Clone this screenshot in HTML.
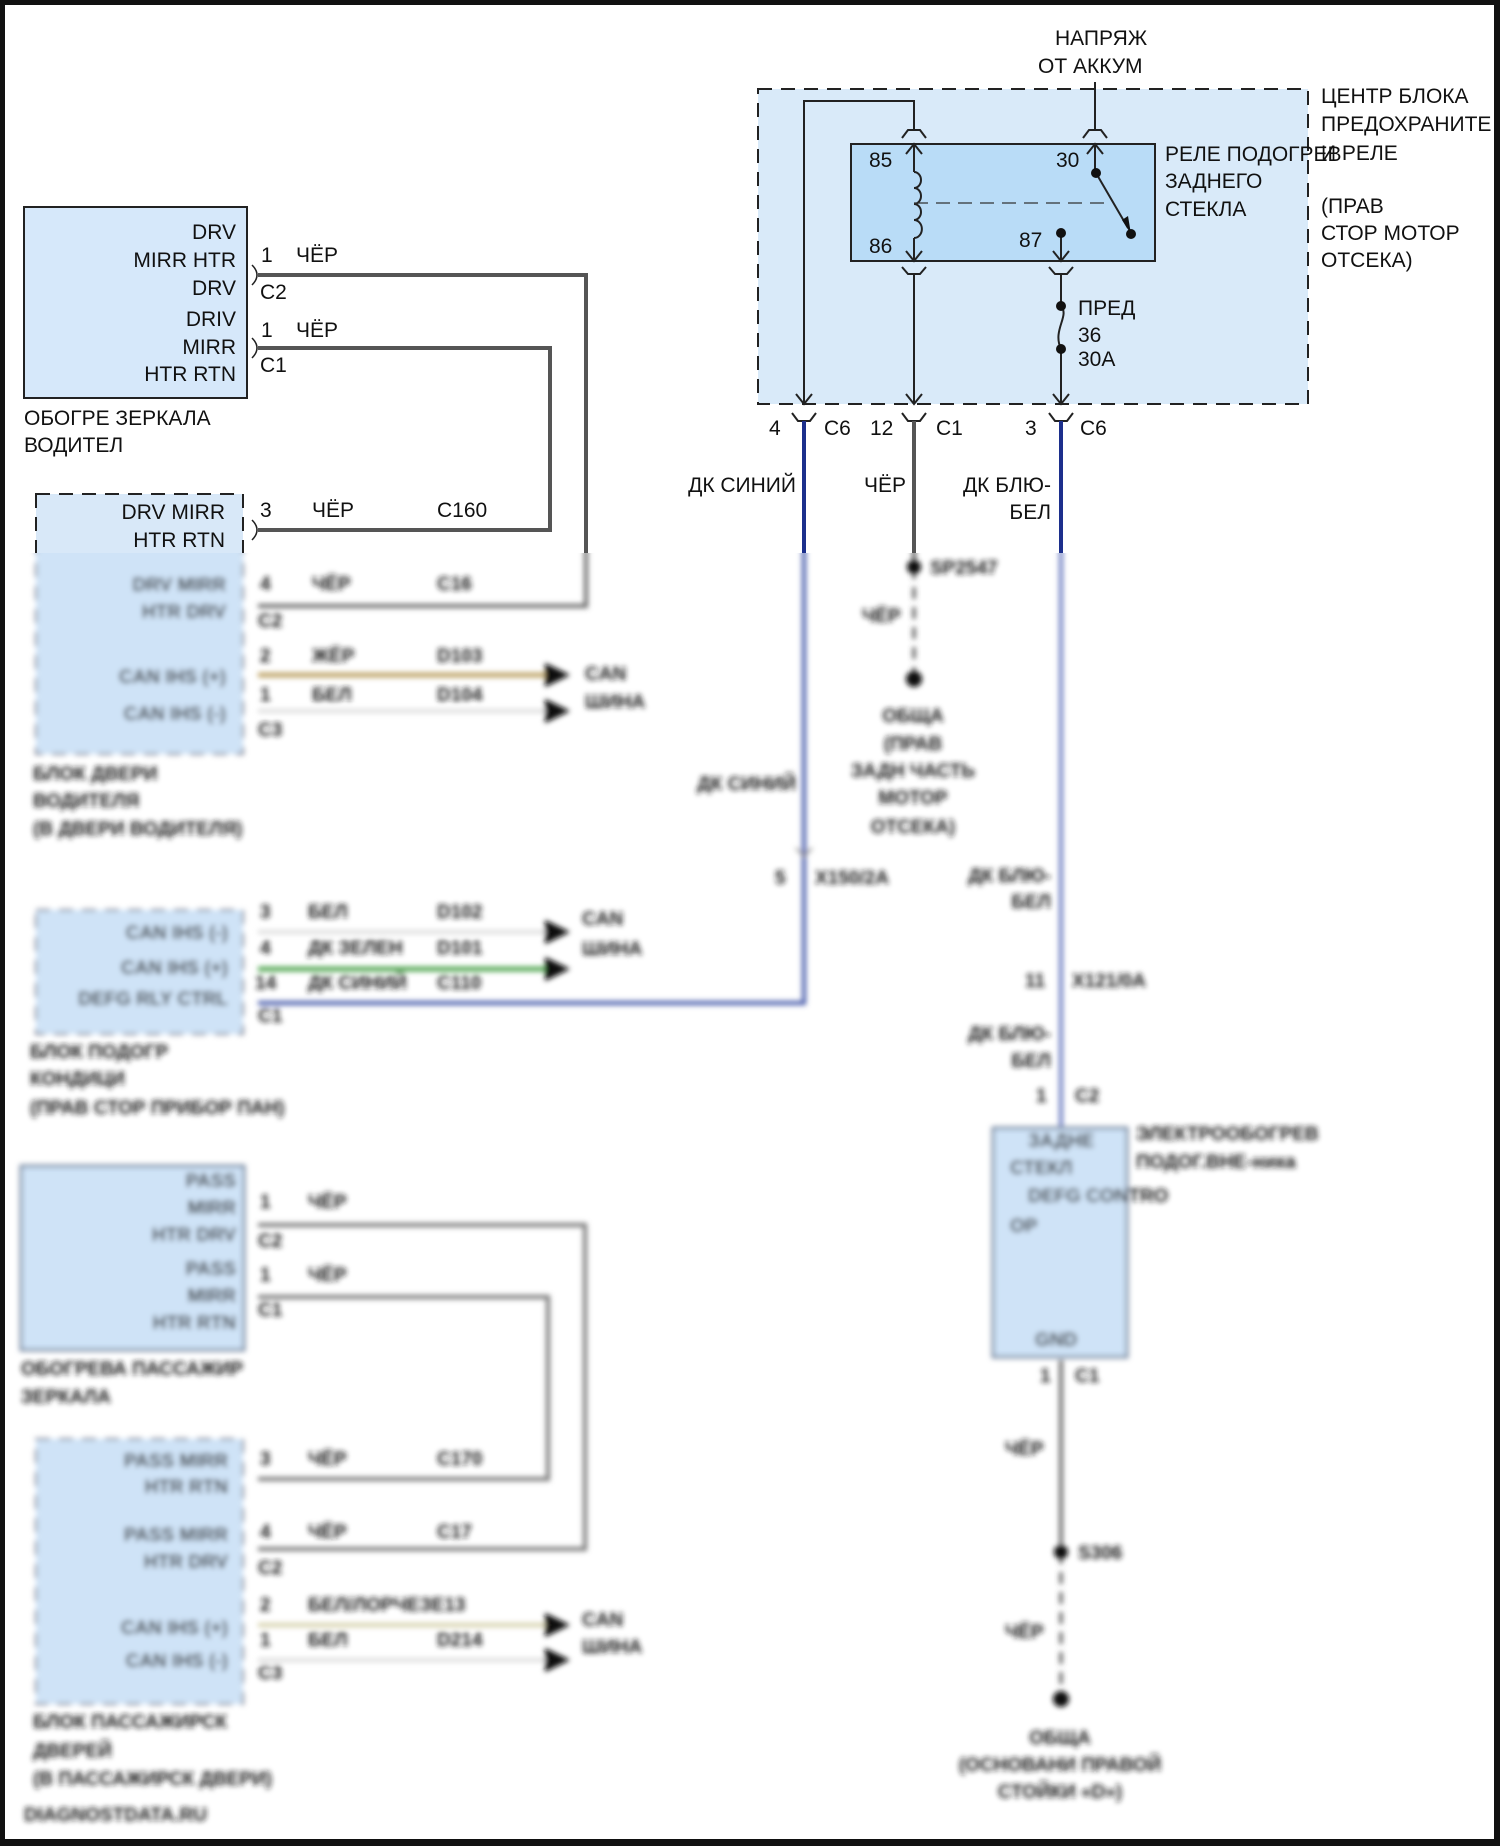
<!DOCTYPE html>
<html><head><meta charset="utf-8"><style>
html,body{margin:0;padding:0;background:#fff}
svg{display:block}
text{font-family:"Liberation Sans","Noto Sans CJK SC",sans-serif;font-size:21px;fill:#111}
.s{font-size:19px;fill:#1a1a1a;font-weight:bold}
</style></head><body>
<svg width="1500" height="1846" viewBox="0 0 1500 1846" xmlns="http://www.w3.org/2000/svg">
<defs>
<filter id="bl" x="-5%" y="-5%" width="110%" height="110%"><feGaussianBlur stdDeviation="2.6"/></filter>
<clipPath id="top"><rect x="0" y="0" width="1500" height="553"/></clipPath>
<clipPath id="bot"><rect x="0" y="553" width="1500" height="1293"/></clipPath>
</defs>
<rect width="1500" height="1846" fill="#fff"/>

<g clip-path="url(#top)">
<rect x="24" y="207" width="223" height="191" fill="#d6e8fa" stroke="#222" stroke-width="2"/>
<g text-anchor="end">
<text x="236" y="239">DRV</text><text x="236" y="267">MIRR HTR</text><text x="236" y="295">DRV</text>
<text x="236" y="326">DRIV</text><text x="236" y="354">MIRR</text><text x="236" y="381">HTR RTN</text>
</g>
<text x="24" y="425">ОБОГРЕ ЗЕРКАЛА</text><text x="24" y="452">ВОДИТЕЛ</text>
<text x="261" y="262">1</text><text x="296" y="262">ЧЁР</text><text x="260" y="299">C2</text>
<text x="261" y="337">1</text><text x="296" y="337">ЧЁР</text><text x="260" y="372">C1</text>
<path d="M252 265 Q262 275 252 285 M252 338 Q262 348 252 358" fill="none" stroke="#222" stroke-width="1.5"/>
<path d="M258 275 H586 V620 M258 348 H550 V530 H258" fill="none" stroke="#555" stroke-width="4"/>
<rect x="36" y="494" width="207" height="260" fill="#d8e8f8" stroke="#222" stroke-width="2" stroke-dasharray="14,9"/>
<g text-anchor="end"><text x="225" y="519">DRV MIRR</text><text x="225" y="547">HTR RTN</text></g>
<text x="260" y="517">3</text><text x="312" y="517">ЧЁР</text><text x="437" y="517">C160</text>
<path d="M252 520 Q262 530 252 540" fill="none" stroke="#222" stroke-width="1.5"/>

<text x="1055" y="45">НАПРЯЖ</text><text x="1038" y="73">ОТ АККУМ</text>
<rect x="758" y="89" width="550" height="315" fill="#d9eaf9" stroke="#222" stroke-width="2" stroke-dasharray="14,9"/>
<text x="1321" y="103">ЦЕНТР БЛОКА</text><text x="1321" y="131">ПРЕДОХРАНИТЕ</text><text x="1321" y="160">И РЕЛЕ</text>
<text x="1321" y="213">(ПРАВ</text><text x="1321" y="240">СТОР МОТОР</text><text x="1321" y="267">ОТСЕКА)</text>
<rect x="851" y="144" width="304" height="117" fill="#b9dcf7" stroke="#222" stroke-width="2"/>
<text x="1165" y="161">РЕЛЕ ПОДОГРЕВ</text><text x="1165" y="188">ЗАДНЕГО</text><text x="1165" y="216">СТЕКЛА</text>
<text x="869" y="167">85</text><text x="1056" y="167">30</text><text x="869" y="253">86</text><text x="1019" y="247">87</text>
<g fill="none" stroke="#222" stroke-width="2">
<path d="M1095 82 V130 M804 404 V101 H914 V130"/>
<path d="M902 138 L908 130 H920 L926 138 M1083 138 L1089 130 H1101 L1107 138"/>
<path d="M914 144 V172 M914 238 V261 M906 154 L914 144 L922 154 M906 251 L914 261 L922 251"/>
<path d="M914 172 a7 8 0 0 1 0 16 a7 8 0 0 1 0 16 a7 8 0 0 1 0 16 a7 8 0 0 1 0 18"/>
<path d="M1095 144 V173 M1087 154 L1095 144 L1103 154"/>
<path d="M1096 173 L1128 228"/>
<path d="M1061 233 V261 M1053 251 L1061 261 L1069 251"/>
<path d="M902 267 L908 274 H920 L926 267 M1049 267 L1055 274 H1067 L1073 267"/>
<path d="M914 274 V404 M906 394 L914 404 L922 394 M796 394 L804 404 L812 394"/>
<path d="M1061 274 V306 M1061 306 C1070 316 1052 330 1061 349 M1061 349 V404 M1053 394 L1061 404 L1069 394"/>
<path d="M792 413 L798 421 H810 L816 413 M902 413 L908 421 H920 L926 413 M1049 413 L1055 421 H1067 L1073 413"/>
</g>
<path d="M914 203 H1108" stroke="#333" stroke-width="1.2" stroke-dasharray="14,8"/>
<path d="M1122 220 L1131 234 L1128 216 Z" fill="#111"/>
<circle cx="1096" cy="173" r="5" fill="#111"/><circle cx="1131" cy="234" r="5" fill="#111"/>
<circle cx="1061" cy="233" r="5" fill="#111"/><circle cx="1061" cy="306" r="5" fill="#111"/><circle cx="1061" cy="349" r="5" fill="#111"/>
<text x="1078" y="315">ПРЕД</text><text x="1078" y="342">36</text><text x="1078" y="366">30A</text>
<text x="769" y="435">4</text><text x="824" y="435">C6</text><text x="870" y="435">12</text><text x="936" y="435">C1</text>
<text x="1025" y="435">3</text><text x="1080" y="435">C6</text>
<g text-anchor="end"><text x="796" y="492">ДК СИНИЙ</text><text x="906" y="492">ЧЁР</text><text x="1051" y="492">ДК БЛЮ-</text><text x="1051" y="519">БЕЛ</text></g>
<path d="M804 421 V600" stroke="#1c2f8c" stroke-width="4"/>
<path d="M914 421 V560" stroke="#555" stroke-width="4"/>
<path d="M1061 421 V600" stroke="#1c2f8c" stroke-width="4"/>
</g>

<g clip-path="url(#bot)"><g filter="url(#bl)">
<path d="M258 275 H586 V606 H258" fill="none" stroke="#666" stroke-width="4"/>
<rect x="36" y="494" width="207" height="260" fill="#cfe3f7" stroke="#778" stroke-width="2" stroke-dasharray="14,9"/>
<g text-anchor="end"><text class="s" x="226" y="591">DRV MIRR</text><text class="s" x="226" y="618">HTR DRV</text>
<text class="s" x="226" y="683">CAN IHS (+)</text><text class="s" x="226" y="720">CAN IHS (-)</text></g>
<text class="s" x="260" y="590">4</text><text class="s" x="312" y="590">ЧЁР</text><text class="s" x="437" y="590">C16</text>
<text class="s" x="258" y="627">C2</text>
<text class="s" x="260" y="662">2</text><text class="s" x="312" y="662">ЖЁР</text><text class="s" x="437" y="662">D103</text>
<text class="s" x="260" y="701">1</text><text class="s" x="312" y="701">БЕЛ</text><text class="s" x="437" y="701">D104</text>
<text class="s" x="258" y="736">C3</text>
<path d="M258 675 H550" stroke="#c0a66a" stroke-width="5"/>
<path d="M258 711 H550" stroke="#ddd" stroke-width="4"/>
<path d="M545 663 L570 675 L545 687Z M545 699 L570 711 L545 723Z" fill="#111"/>
<text class="s" x="585" y="680">CAN</text><text class="s" x="585" y="708">ШИНА</text>
<text class="s" x="33" y="780">БЛОК ДВЕРИ</text><text class="s" x="33" y="807">ВОДИТЕЛЯ</text><text class="s" x="33" y="835">(В ДВЕРИ ВОДИТЕЛЯ)</text>

<path d="M804 421 V1003 H258" fill="none" stroke="#4357a8" stroke-width="4"/>
<text class="s" x="796" y="790" text-anchor="end">ДК СИНИЙ</text>
<path d="M796 848 L804 856 L812 848" fill="none" stroke="#888" stroke-width="2"/>
<text class="s" x="775" y="884">5</text><text class="s" x="815" y="884">X150/2A</text>
<path d="M914 421 V567" stroke="#555" stroke-width="4"/>
<path d="M914 567 V679" stroke="#444" stroke-width="3" stroke-dasharray="12,8"/>
<circle cx="914" cy="567" r="7" fill="#111"/><circle cx="914" cy="679" r="8" fill="#111"/>
<text class="s" x="930" y="574">SP2547</text><text class="s" x="862" y="622">ЧЁР</text>
<g text-anchor="middle"><text class="s" x="913" y="722">ОБЩА</text><text class="s" x="913" y="750">(ПРАВ</text><text class="s" x="913" y="777">ЗАДН ЧАСТЬ</text><text class="s" x="913" y="804">МОТОР</text><text class="s" x="913" y="833">ОТСЕКА)</text></g>
<path d="M1061 421 V1128" stroke="#6a7cc0" stroke-width="4"/>
<g text-anchor="end"><text class="s" x="1051" y="882">ДК БЛЮ-</text><text class="s" x="1051" y="908">БЕЛ</text>
<text class="s" x="1051" y="1040">ДК БЛЮ-</text><text class="s" x="1051" y="1067">БЕЛ</text></g>
<text class="s" x="1025" y="987">11</text><text class="s" x="1072" y="987">X121/0A</text>
<text class="s" x="1036" y="1102">1</text><text class="s" x="1075" y="1102">C2</text>
<rect x="993" y="1128" width="134" height="229" fill="#cfe3f7" stroke="#7788a0" stroke-width="3"/>
<text class="s" x="1028" y="1147">ЗАДНЕ</text><text class="s" x="1010" y="1174">СТЕКЛ</text><text class="s" x="1028" y="1202">DEFG CONTRO</text><text class="s" x="1010" y="1232">OP</text>
<text class="s" x="1035" y="1346">GND</text>
<text class="s" x="1136" y="1140">ЭЛЕКТРООБОГРЕВ</text><text class="s" x="1136" y="1168">ПОДОГ.ВНЕ-ника</text>
<text class="s" x="1040" y="1382">1</text><text class="s" x="1075" y="1382">C1</text>
<path d="M1061 1360 V1552" stroke="#666" stroke-width="4"/>
<path d="M1061 1552 V1699" stroke="#444" stroke-width="3" stroke-dasharray="12,8"/>
<circle cx="1061" cy="1552" r="7" fill="#111"/><circle cx="1061" cy="1699" r="8" fill="#111"/>
<text class="s" x="1005" y="1455">ЧЁР</text><text class="s" x="1078" y="1559">S306</text><text class="s" x="1005" y="1638">ЧЁР</text>
<g text-anchor="middle"><text class="s" x="1060" y="1744">ОБЩА</text><text class="s" x="1060" y="1771">(ОСНОВАНИ ПРАВОЙ</text><text class="s" x="1060" y="1798">СТОЙКИ «D»)</text></g>

<rect x="36" y="910" width="207" height="124" fill="#cfe3f7" stroke="#778" stroke-width="2" stroke-dasharray="14,9"/>
<g text-anchor="end"><text class="s" x="228" y="939">CAN IHS (-)</text><text class="s" x="228" y="974">CAN IHS (+)</text><text class="s" x="228" y="1005">DEFG RLY CTRL</text></g>
<text class="s" x="260" y="918">3</text><text class="s" x="308" y="918">БЕЛ</text><text class="s" x="437" y="918">D102</text>
<text class="s" x="260" y="954">4</text><text class="s" x="308" y="954">ДК ЗЕЛЕН</text><text class="s" x="437" y="954">D101</text>
<text class="s" x="255" y="989">14</text><text class="s" x="308" y="989">ДК СИНИЙ</text><text class="s" x="437" y="989">C110</text>
<text class="s" x="258" y="1022">C1</text>
<path d="M258 932 H550" stroke="#ddd" stroke-width="4"/>
<path d="M258 969 H550" stroke="#55a855" stroke-width="5"/>
<path d="M545 920 L570 932 L545 944Z M545 957 L570 969 L545 981Z" fill="#111"/>
<text class="s" x="582" y="925">CAN</text><text class="s" x="582" y="955">ШИНА</text>
<text class="s" x="30" y="1058">БЛОК ПОДОГР</text><text class="s" x="30" y="1085">КОНДИЦИ</text><text class="s" x="30" y="1114">(ПРАВ СТОР ПРИБОР ПАН)</text>

<rect x="21" y="1166" width="223" height="184" fill="#cfe3f7" stroke="#7788a0" stroke-width="3"/>
<g text-anchor="end"><text class="s" x="236" y="1187">PASS</text><text class="s" x="236" y="1214">MIRR</text><text class="s" x="236" y="1241">HTR DRV</text>
<text class="s" x="236" y="1275">PASS</text><text class="s" x="236" y="1302">MIRR</text><text class="s" x="236" y="1329">HTR RTN</text></g>
<text class="s" x="260" y="1208">1</text><text class="s" x="308" y="1208">ЧЁР</text><text class="s" x="258" y="1247">C2</text>
<text class="s" x="260" y="1281">1</text><text class="s" x="308" y="1281">ЧЁР</text><text class="s" x="258" y="1316">C1</text>
<path d="M258 1225 H585 V1549 H258 M258 1297 H548 V1479 H258" fill="none" stroke="#777" stroke-width="4"/>
<text class="s" x="21" y="1375">ОБОГРЕВА ПАССАЖИР</text><text class="s" x="21" y="1403">ЗЕРКАЛА</text>

<rect x="36" y="1439" width="207" height="265" fill="#cfe3f7" stroke="#778" stroke-width="2" stroke-dasharray="14,9"/>
<g text-anchor="end"><text class="s" x="228" y="1467">PASS MIRR</text><text class="s" x="228" y="1493">HTR RTN</text>
<text class="s" x="228" y="1541">PASS MIRR</text><text class="s" x="228" y="1568">HTR DRV</text>
<text class="s" x="228" y="1634">CAN IHS (+)</text><text class="s" x="228" y="1667">CAN IHS (-)</text></g>
<text class="s" x="260" y="1465">3</text><text class="s" x="308" y="1465">ЧЁР</text><text class="s" x="437" y="1465">C170</text>
<text class="s" x="260" y="1538">4</text><text class="s" x="308" y="1538">ЧЁР</text><text class="s" x="437" y="1538">C17</text>
<text class="s" x="258" y="1574">C2</text>
<text class="s" x="260" y="1611">2</text><text class="s" x="308" y="1611">БЕЛ/ЛОРЧЕЗЕ13</text>
<text class="s" x="260" y="1646">1</text><text class="s" x="308" y="1646">БЕЛ</text><text class="s" x="437" y="1646">D214</text>
<text class="s" x="258" y="1679">C3</text>
<path d="M258 1625 H550" stroke="#d4cfa8" stroke-width="4"/>
<path d="M258 1660 H550" stroke="#ddd" stroke-width="4"/>
<path d="M545 1613 L570 1625 L545 1637Z M545 1648 L570 1660 L545 1672Z" fill="#111"/>
<text class="s" x="582" y="1626">CAN</text><text class="s" x="582" y="1653">ШИНА</text>
<text class="s" x="33" y="1728">БЛОК ПАССАЖИРСК</text><text class="s" x="33" y="1757">ДВЕРЕЙ</text><text class="s" x="33" y="1785">(В ПАССАЖИРСК ДВЕРИ)</text>
<text class="s" x="24" y="1821">DIAGNOSTDATA.RU</text>
</g></g>

<rect x="0" y="0" width="1500" height="5" fill="#111"/>
<rect x="0" y="0" width="5" height="1846" fill="#111"/>
<rect x="1494" y="0" width="6" height="1846" fill="#111"/>
<rect x="0" y="1839" width="1500" height="7" fill="#111"/>
</svg>
</body></html>
